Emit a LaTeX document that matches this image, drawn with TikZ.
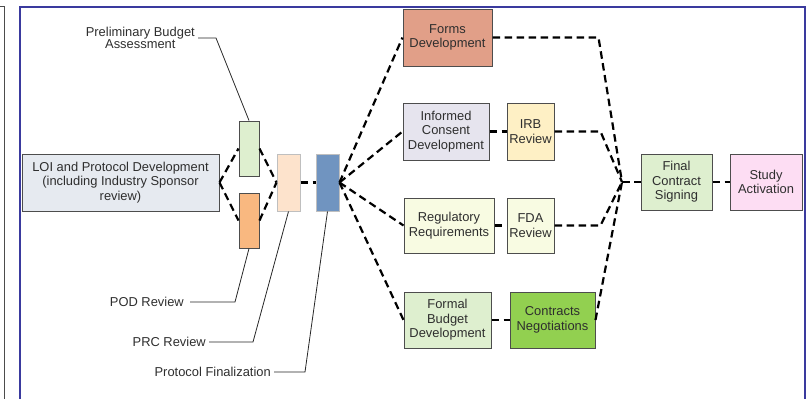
\documentclass[tikz,border=0pt]{standalone}
\usepackage{fontspec}
\setmainfont{Liberation Sans}
\usepackage{tikz}

\definecolor{txt}{HTML}{2E2E2E}
\definecolor{edge}{HTML}{4D4D4D}
\definecolor{frameblue}{HTML}{3A3A9E}

\begin{document}
\begin{tikzpicture}[x=1pt,y=-1pt,
  box/.style={draw=edge, line width=1pt, inner sep=1pt, align=center, text=txt,
    font=\fontsize{12.9}{14.6}\selectfont},
  lbl/.style={inner sep=3pt, align=center, text=txt, font=\fontsize{12.9}{11}\selectfont},
  link/.style={line width=2.2pt, dash pattern=on 7.5pt off 4.5pt},
  lead/.style={line width=0.8pt, draw=black!85}]
  \useasboundingbox (0,0) rectangle (807,399);
  \draw[black!70, line width=1.2pt] (0,6.5) -- (4.5,6.5) -- (4.5,399);
  \draw[frameblue, line width=2pt] (20,410) -- (20,6.7) -- (805,6.7) -- (805,410);
  \node[box, fill={rgb,255:red,230;green,234;blue,240}, minimum width=197pt, minimum height=57pt] (1) at (120.5,182.5) {LOI and Protocol Development\\(including Industry Sponsor\\review)};
  \node[box, fill={rgb,255:red,222;green,239;blue,207}, minimum width=20pt, minimum height=55pt] (2) at (249,148.5) {};
  \node[box, fill={rgb,255:red,249;green,184;blue,128}, minimum width=20pt, minimum height=55pt] (3) at (249,220.5) {};
  \node[box, draw=black!25, fill={rgb,255:red,253;green,227;blue,204}, minimum width=23pt, minimum height=57pt] (4) at (288.5,182.5) {};
  \node[box, draw=black!25, fill={rgb,255:red,112;green,148;blue,192}, minimum width=23pt, minimum height=57pt] (5) at (327.5,182.5) {};
  \node[box, fill={rgb,255:red,225;green,159;blue,136}, minimum width=89pt, minimum height=57pt] (6) at (447.5,37.5) {Forms\\Development};
  \node[box, fill={rgb,255:red,230;green,228;blue,238}, minimum width=86pt, minimum height=57pt] (7) at (446,131.5) {Informed\\Consent\\Development};
  \node[box, fill={rgb,255:red,254;green,240;blue,197}, minimum width=47pt, minimum height=57pt] (8) at (530.5,131.5) {IRB\\Review};
  \node[box, fill={rgb,255:red,248;green,251;blue,226}, minimum width=90pt, minimum height=55pt] (9) at (449,225.5) {Regulatory\\Requirements};
  \node[box, fill={rgb,255:red,248;green,251;blue,226}, minimum width=47pt, minimum height=55pt] (10) at (530.5,225.5) {FDA\\Review};
  \node[box, fill={rgb,255:red,222;green,239;blue,207}, minimum width=87pt, minimum height=56pt] (11) at (447.5,320) {Formal\\Budget\\Development};
  \node[box, fill={rgb,255:red,146;green,208;blue,80}, minimum width=85pt, minimum height=56pt] (12) at (552.5,320) {Contracts\\Negotiations};
  \node[box, fill={rgb,255:red,222;green,239;blue,207}, minimum width=71pt, minimum height=56pt] (13) at (676.5,182) {Final\\Contract\\Signing};
  \node[box, fill={rgb,255:red,253;green,221;blue,243}, minimum width=72pt, minimum height=56pt] (14) at (766,182) {Study\\Activation};
  \node[lbl, anchor=east] (15) at (198,38) {Preliminary Budget\\Assessment};
  \node[lbl, anchor=east, inner xsep=6pt] (16) at (190,302) {POD Review};
  \node[lbl, anchor=east] (17) at (209,342) {PRC Review};
  \node[lbl, anchor=east] (18) at (274,372) {Protocol Finalization};
  \coordinate (m) at (622,182);
  \draw[link] (1.east)--(2.west);
  \draw[link] (1.east)--(3.west);
  \draw[link] (2.east)--(4.west);
  \draw[link] (3.east)--(4.west);
  \draw[link] (4.east)--(5.west);
  \draw[link] (5.east)--(6.west);
  \draw[link] (5.east)--(7.west);
  \draw[link] (5.east)--(9.west);
  \draw[link] (5.east)--(11.west);
  \draw[link] (7)--(8);
  \draw[link] (9)--(10);
  \draw[link] (11)--(12);
  \draw[link] (6.east)--++(106,0)--(m);
  \draw[link] (8.east)--++(46,0)--(m);
  \draw[link] (10.east)--++(46,0)--(m);
  \draw[link] (12.east)--(m);
  \draw[link] (m)--(13.west);
  \draw[link] (13)--(14);
  \draw[lead] (15.east)--++(18,0)--(2.north);
  \draw[lead] (16.east)--++(45,0)--(3.south);
  \draw[lead] (17.east)--++(44,0)--(4.south);
  \draw[lead] (18.east)--++(31,0)--(5.south);
\end{tikzpicture}
\end{document}
